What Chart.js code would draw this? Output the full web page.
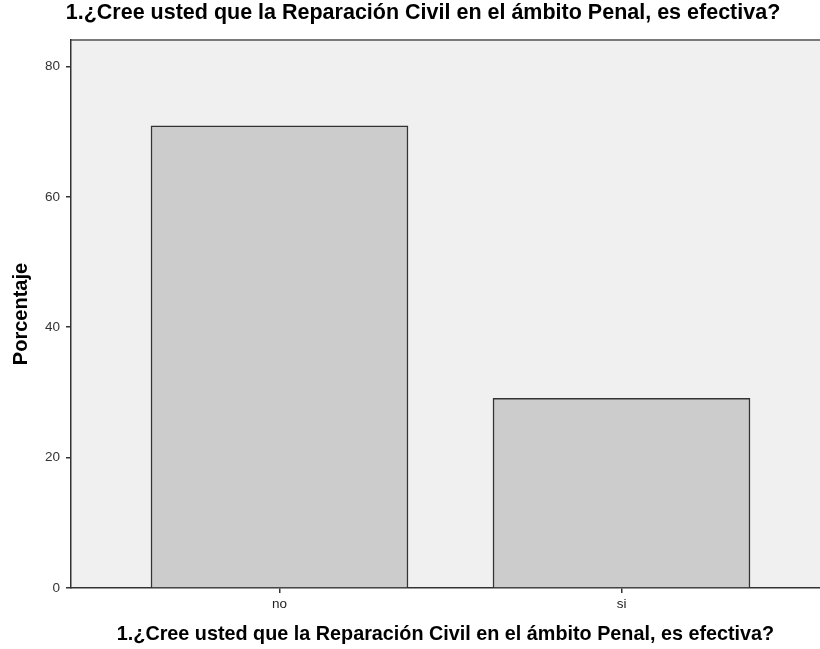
<!DOCTYPE html>
<html>
<head>
<meta charset="utf-8">
<script src="https://cdn.jsdelivr.net/npm/chart.js@4"></script>
<style>
  body { margin: 0; background: #fff; overflow: hidden; }
  canvas { display: block; }
</style>
</head>
<body>
<canvas id="grafico" width="820" height="649"></canvas>
<script>
// datos
const categorias = ['no', 'si'];
const porcentajes = [70.9, 29.1];
const ticksY = [0, 20, 40, 60, 80];
const titulo = '1.¿Cree usted que la Reparación Civil en el ámbito Penal, es efectiva?';
const tituloY = 'Porcentaje';

const fuente = "'Liberation Sans', Arial, sans-serif";

// fondo gris del área de trazado y borde superior
const fondoArea = {
  id: 'fondoArea',
  beforeDraw(chart) {
    const { ctx, chartArea: a } = chart;
    ctx.save();
    ctx.fillStyle = '#fff';
    ctx.fillRect(0, 0, chart.width, chart.height);
    ctx.fillStyle = '#f0f0f0';
    ctx.fillRect(a.left, a.top, a.right - a.left, a.bottom - a.top);
    ctx.strokeStyle = '#7a7a7a';
    ctx.lineWidth = 2;
    ctx.beginPath();
    ctx.moveTo(a.left, a.top);
    ctx.lineTo(a.right, a.top);
    ctx.stroke();
    ctx.restore();
  }
};

// posición de las barras como en SPSS (centros a 342 px, primera a 208.5 px del eje)
const anchoArea = 820 - 71;
const xMin = -208.5 / 342;
const xMax = xMin + anchoArea / 342;

const ctx = document.getElementById('grafico').getContext('2d');
new Chart(ctx, {
  type: 'bar',
  data: {
    datasets: [{
      data: categorias.map((c, i) => ({ x: i, y: porcentajes[i] })),
      backgroundColor: '#cccccc',
      borderColor: '#333',
      borderWidth: 1.5,
      barThickness: 257
    }]
  },
  plugins: [fondoArea],
  options: {
    responsive: false,
    animation: false,
    // margen izquierdo para centrar el título un poco a la derecha, como el original
    layout: { padding: { left: 26, right: 0, top: 0, bottom: 0 } },
    plugins: {
      legend: { display: false },
      tooltip: { enabled: false },
      title: {
        display: true,
        text: titulo,
        color: '#000',
        font: { family: fuente, size: 21.5, weight: 'bold' },
        padding: { top: 0.5, bottom: 13.7 }
      }
    },
    scales: {
      x: {
        type: 'linear',
        offset: false,
        min: xMin,
        max: xMax,
        afterFit(scale) { scale.height = 61; },
        afterBuildTicks(scale) { scale.ticks = categorias.map((c, i) => ({ value: i })); },
        ticks: {
          color: '#222',
          font: { family: fuente, size: 13.5 },
          padding: 3,
          maxRotation: 0,
          callback: (v) => categorias[v]
        },
        grid: { offset: false, drawOnChartArea: false, drawTicks: true, tickLength: 5, color: '#333', lineWidth: 1.5 },
        border: { display: true, color: '#333', width: 1.5 },
        title: {
          display: true,
          text: titulo,
          color: '#000',
          font: { family: fuente, size: 19.8, weight: 'bold' },
          padding: { top: 0, bottom: 3 }
        }
      },
      y: {
        min: 0,
        max: 84.05,
        afterFit(scale) { scale.width = 45; },
        afterBuildTicks(scale) { scale.ticks = ticksY.map(v => ({ value: v })); },
        ticks: {
          color: '#333',
          font: { family: fuente, size: 13.5 },
          padding: 6
        },
        grid: { drawOnChartArea: false, drawTicks: true, tickLength: 5, color: '#333', lineWidth: 1.5 },
        border: { display: true, color: '#333', width: 1.5 },
        title: {
          display: true,
          text: tituloY,
          color: '#000',
          font: { family: fuente, size: 20, weight: 'bold' },
          padding: { top: -17, bottom: 0 }
        }
      }
    }
  }
});
</script>
</body>
</html>
